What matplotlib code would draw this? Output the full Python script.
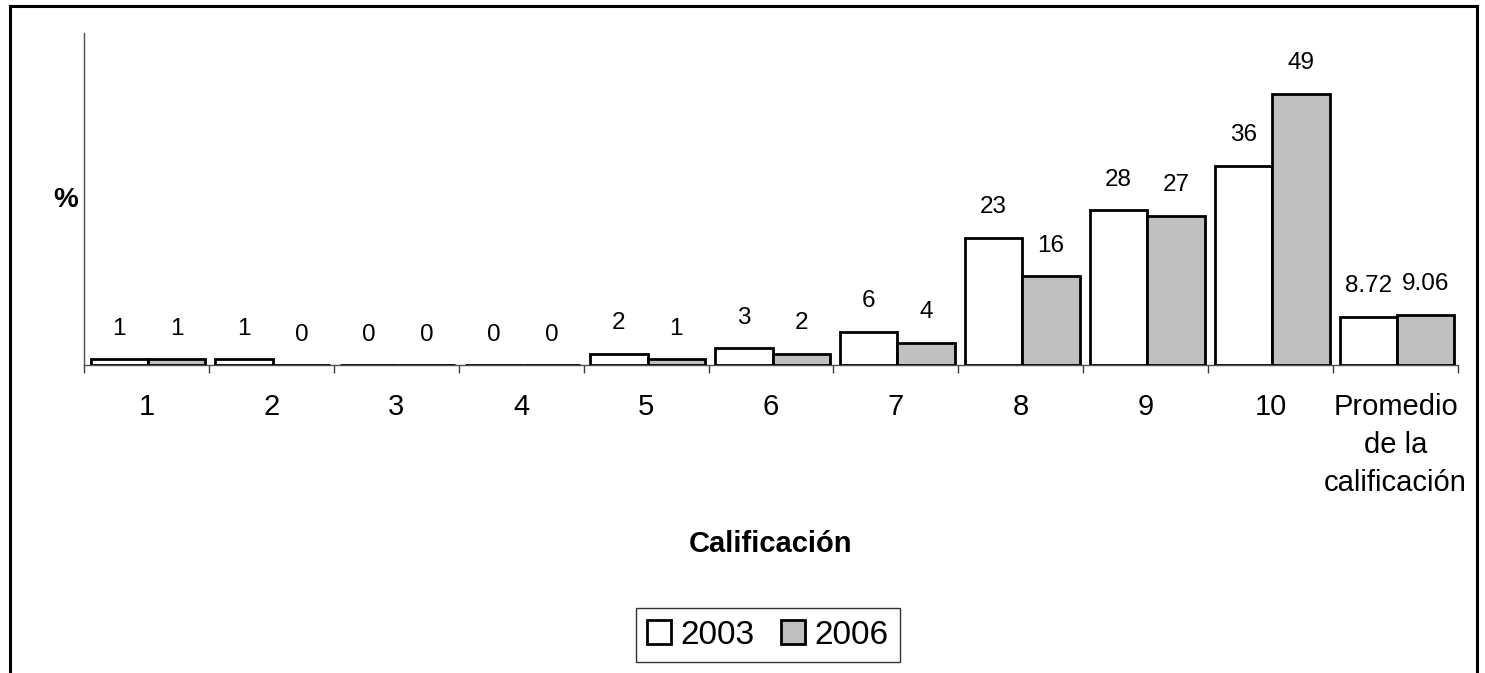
import matplotlib
matplotlib.use("Agg")
import matplotlib.pyplot as plt
from matplotlib.lines import Line2D
from matplotlib.patches import Patch
import numpy as np

categories = ["1", "2", "3", "4", "5", "6", "7", "8", "9", "10",
              "Promedio\nde la\ncalificación"]
series_2003 = [1, 1, 0, 0, 2, 3, 6, 23, 28, 36, 8.72]
series_2006 = [1, 0, 0, 0, 1, 2, 4, 16, 27, 49, 9.06]
labels_2003 = ["1", "1", "0", "0", "2", "3", "6", "23", "28", "36", "8.72"]
labels_2006 = ["1", "0", "0", "0", "1", "2", "4", "16", "27", "49", "9.06"]
series_names = ["2003", "2006"]

plt.rcParams['font.family'] = ['Liberation Sans', 'DejaVu Sans']

fig = plt.figure(figsize=(14.85, 6.73), dpi=100)
ax = fig.add_axes([0.0566, 0.4577, 0.9252, 0.4933])

x = np.arange(len(categories))
w = 0.46
b1 = ax.bar(x - w / 2 + 0.012, series_2003, width=w, color="white",
            edgecolor="black", linewidth=2.0, zorder=3)
b2 = ax.bar(x + w / 2 + 0.012, series_2006, width=w, color="#c0c0c0",
            edgecolor="black", linewidth=2.0, zorder=3)

for bars, labs in ((b1, labels_2003), (b2, labels_2006)):
    for r, lab in zip(bars, labs):
        ax.annotate(lab, (r.get_x() + r.get_width() / 2, r.get_height()),
                    xytext=(0, 14), textcoords="offset points",
                    ha="center", va="bottom", fontsize=17.5)

ax.set_xlim(-0.5, len(categories) - 0.5)
ax.set_ylim(0, 60)
ax.set_yticks([])
ax.set_xticks(np.arange(len(categories) + 1) - 0.5)
ax.set_xticklabels([])
ax.set_xticks(x, minor=True)
ax.set_xticklabels(categories, minor=True, fontsize=21, linespacing=1.45,
                   va="top")
ax.tick_params(axis="x", which="major", direction="out", length=6,
               width=1, color="#404040")
ax.tick_params(axis="x", which="minor", length=0, pad=20)
for s in ("top", "right"):
    ax.spines[s].set_visible(False)
for s in ("left", "bottom"):
    ax.spines[s].set_color("#505050")
    ax.spines[s].set_linewidth(1)

fig.text(66 / 1485, 1 - 200 / 673, "%", fontsize=20, fontweight="bold",
         ha="center", va="center")
fig.text(770 / 1485, 1 - 544 / 673, "Calificación", fontsize=21,
         fontweight="bold", ha="center", va="center")

handles = [Patch(facecolor="white", edgecolor="black", linewidth=2.0),
           Patch(facecolor="#c0c0c0", edgecolor="black", linewidth=2.0)]
leg = fig.legend(handles, series_names, loc="center",
                 bbox_to_anchor=(768 / 1485, 1 - 635 / 673), ncol=2,
                 fontsize=24, frameon=True, fancybox=False,
                 handlelength=0.7, handleheight=0.7, handletextpad=0.3,
                 columnspacing=0.8, borderpad=0.35, borderaxespad=0)
leg.get_frame().set_edgecolor("black")
leg.get_frame().set_linewidth(1)

# outer frame
lw = 2.2
fig.add_artist(Line2D([10 / 1485, 10 / 1485], [0, 1 - 6 / 673],
                      color="black", lw=lw, transform=fig.transFigure))
fig.add_artist(Line2D([1477 / 1485, 1477 / 1485], [0, 1 - 6 / 673],
                      color="black", lw=lw, transform=fig.transFigure))
fig.add_artist(Line2D([10 / 1485, 1477 / 1485], [1 - 6 / 673, 1 - 6 / 673],
                      color="black", lw=lw, transform=fig.transFigure))

fig.savefig("out.png", dpi=100)
